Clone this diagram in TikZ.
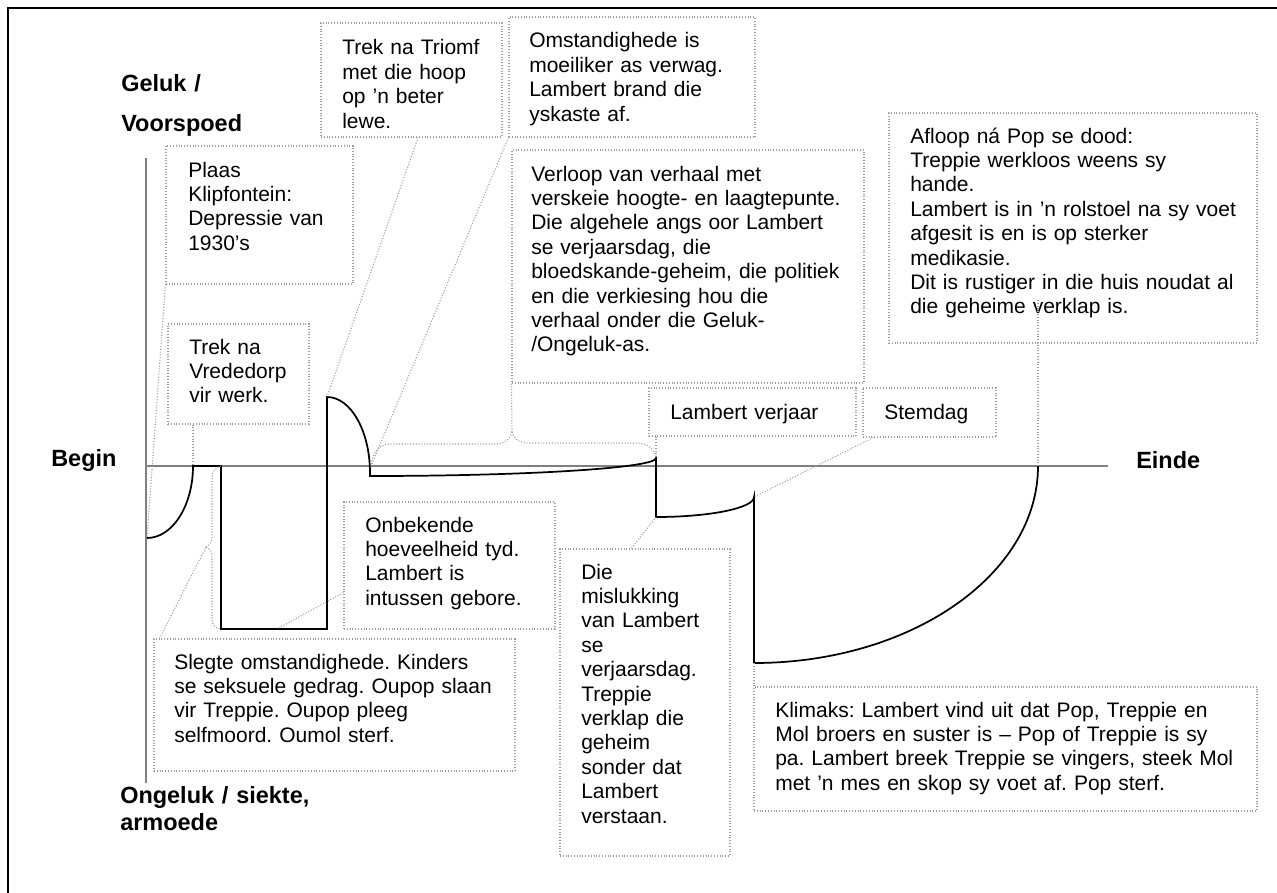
\documentclass[tikz,border=0pt]{standalone}
\usepackage{fontspec}
\setmainfont{Liberation Sans}
\usetikzlibrary{fit,calc}
\frenchspacing
\begin{document}
\frenchspacing
\begin{tikzpicture}[x=0.75pt,y=-0.75pt,
  txt/.style={anchor=base west,inner sep=0pt,align=left,text width=420pt,font=\fontsize{15.75}{18.3}\selectfont},
  lbl/.style={anchor=base west,inner sep=0pt,align=left,text width=300pt,font=\bfseries\fontsize{17.6}{20.3}\selectfont},
  tbox/.style={draw=black!38,line width=0.8pt,dash pattern=on 0.8pt off 1.3pt,inner sep=0pt},
  conn/.style={draw=black!38,line width=0.8pt,dash pattern=on 0.8pt off 1.3pt},
  axisline/.style={draw=black!50,line width=1.1pt},
  plotline/.style={draw=black,line width=1.3pt,line join=miter}
]
\useasboundingbox (0,0) rectangle (1277,892);
% frame
\draw[line width=1.5pt] (8,905) -- (8,8) -- (1290,8);

% axes
\coordinate (yTop) at (146,158);
\coordinate (yBot) at (146,783);
\coordinate (xL) at (146,466);
\coordinate (xR) at (1108,466);
\draw[axisline] (yTop) -- (yBot);
\draw[axisline] (xL) -- (xR);

% axis labels
\node[lbl] (geluk) at (121,92) {Geluk /\\[9pt]Voorspoed};
\node[lbl] (begin) at (51,466) {Begin};
\node[lbl] (einde) at (1136,468) {Einde};
\node[lbl] (ongeluk) at (120,803) {Ongeluk / siekte,\\armoede};

% curve points
\coordinate (p0) at (147,538);
\coordinate (p1) at (193,466);
\coordinate (p2) at (221,466);
\coordinate (p3) at (221,629);
\coordinate (p4) at (327,629);
\coordinate (p5) at (327,397);
\coordinate (p6) at (370,473);
\coordinate (p6b) at (370,476);
\coordinate (p7) at (656,458);
\coordinate (p8) at (656,517);
\coordinate (p9) at (754,497);
\coordinate (p10) at (754,663);
\coordinate (p11) at (1038,466);

% story line
\draw[plotline] (p0) .. controls (172.4,538) and (193,505.7) .. (p1)
  -- (p2) -- (p3) -- (p4) -- (p5)
  .. controls (350.7,397) and (370,431) .. (p6) -- (p6b)
  .. controls (528,476) and (656,468) .. (p7)
  -- (p8) .. controls (710,517) and (754,508) .. (p9)
  -- (p10) .. controls (910.8,663) and (1038,574.7) .. (p11);

% boxes
\node[tbox,fit={(321,23)(502,137)}] (triomf) {};
\node[tbox,fit={(509,17)(755,137)}] (omst) {};
\node[tbox,fit={(166,146)(353,284)}] (plaas) {};
\node[tbox,fit={(512,150)(864,383)}] (verloop) {};
\node[tbox,fit={(889,113)(1257,343)}] (afloop) {};
\node[tbox,fit={(168,324)(309,424)}] (vrede) {};
\node[tbox,fit={(649,388)(856,436)}] (verjaar) {};
\node[tbox,fit={(863,388)(996,437)}] (stem) {};
\node[tbox,fit={(344,502)(555,629)}] (onbek) {};
\node[tbox,fit={(154,639)(515,771)}] (slegte) {};
\node[tbox,fit={(560,549)(730,856)}] (misl) {};
\node[tbox,fit={(754,687)(1257,811)}] (klim) {};

% texts
\node[txt] (triomfT) at (342,55) {Trek na Triomf\\met die hoop\\op ’n beter\\lewe.};
\node[txt] (omstT) at (529,48) {Omstandighede is\\moeiliker as verwag.\\Lambert brand die\\yskaste af.};
\node[txt] (plaasT) at (188,177) {Plaas\\Klipfontein:\\Depressie van\\1930’s};
\node[txt] (verloopT) at (531,181) {Verloop van verhaal met\\verskeie hoogte- en laagtepunte.\\Die algehele angs oor Lambert\\se verjaarsdag, die\\bloedskande-geheim, die politiek\\en die verkiesing hou die\\verhaal onder die Geluk-\\/Ongeluk-as.};
\node[txt] (afloopT) at (910,143) {Afloop ná Pop se dood:\\Treppie werkloos weens sy\\hande.\\Lambert is in ’n rolstoel na sy voet\\afgesit is en is op sterker\\medikasie.\\Dit is rustiger in die huis noudat al\\die geheime verklap is.};
\node[txt] (vredeT) at (189,354) {Trek na\\Vrededorp\\vir werk.};
\node[txt] (verjaarT) at (670,419) {Lambert verjaar};
\node[txt] (stemT) at (884,419) {Stemdag};
\node[txt] (onbekT) at (365,532) {Onbekende\\hoeveelheid tyd.\\Lambert is\\intussen gebore.};
\node[txt] (slegteT) at (174,669) {Slegte omstandighede. Kinders\\se seksuele gedrag. Oupop slaan\\vir Treppie. Oupop pleeg\\selfmoord. Oumol sterf.};
\node[txt] (mislT) at (581,579) {Die\\mislukking\\van Lambert\\se\\verjaarsdag.\\Treppie\\verklap die\\geheim\\sonder dat\\Lambert\\verstaan.};
\node[txt] (klimT) at (775,717) {Klimaks: Lambert vind uit dat Pop, Treppie en\\Mol broers en suster is – Pop of Treppie is sy\\pa. Lambert breek Treppie se vingers, steek Mol\\met ’n mes en skop sy voet af. Pop sterf.};

% connectors
\draw[conn] (plaas.south west) -- (p0);
\draw[conn] (vrede.south -| p1) -- (p1);
\draw[conn] ($(triomf.south west)!0.536!(triomf.south east)$) -- (p5);
\draw[conn] (omst.south west) -- (371,466);
% brace under Verloop
\coordinate (vtip) at (512,432);
\draw[conn] (verloop.south west) -- (vtip);
\draw[conn] (vtip) .. controls (510,440) and (504,444) .. (494,444) -- (390,444)
  .. controls (378,444) and (372,454) .. (371,466);
\draw[conn] (vtip) .. controls (514,440) and (520,443) .. (530,443) -- (636,443)
  .. controls (648,443) and (655,450) .. (p7);
\draw[conn] (verjaar.south -| p7) -- (p7);
\draw[conn] ($(stem.south west)+(11,0)$) -- (p9);
\coordinate (afTail) at (1038,300);
\draw[conn] (afTail) -- (p11);
\draw[conn] ($(onbek.south west)+(0,-37)$) -- (277,629);
% brace beside the drop
\coordinate (stip) at (206,547);
\draw[conn] ($(slegte.north west)+(6,0)$) -- (stip);
\draw[conn] (stip) .. controls (210,545) and (212,542) .. (212,536) -- (212,478)
  .. controls (212,471) and (216,467) .. (p2);
\draw[conn] (stip) .. controls (210,549) and (212,552) .. (212,558) -- (212,619)
  .. controls (212,625) and (216,629) .. (p3);
\draw[conn] ($(misl.north west)+(72,0)$) -- (p8);
\draw[conn] (klim.north -| p10) -- (p10);
\end{tikzpicture}
\end{document}
